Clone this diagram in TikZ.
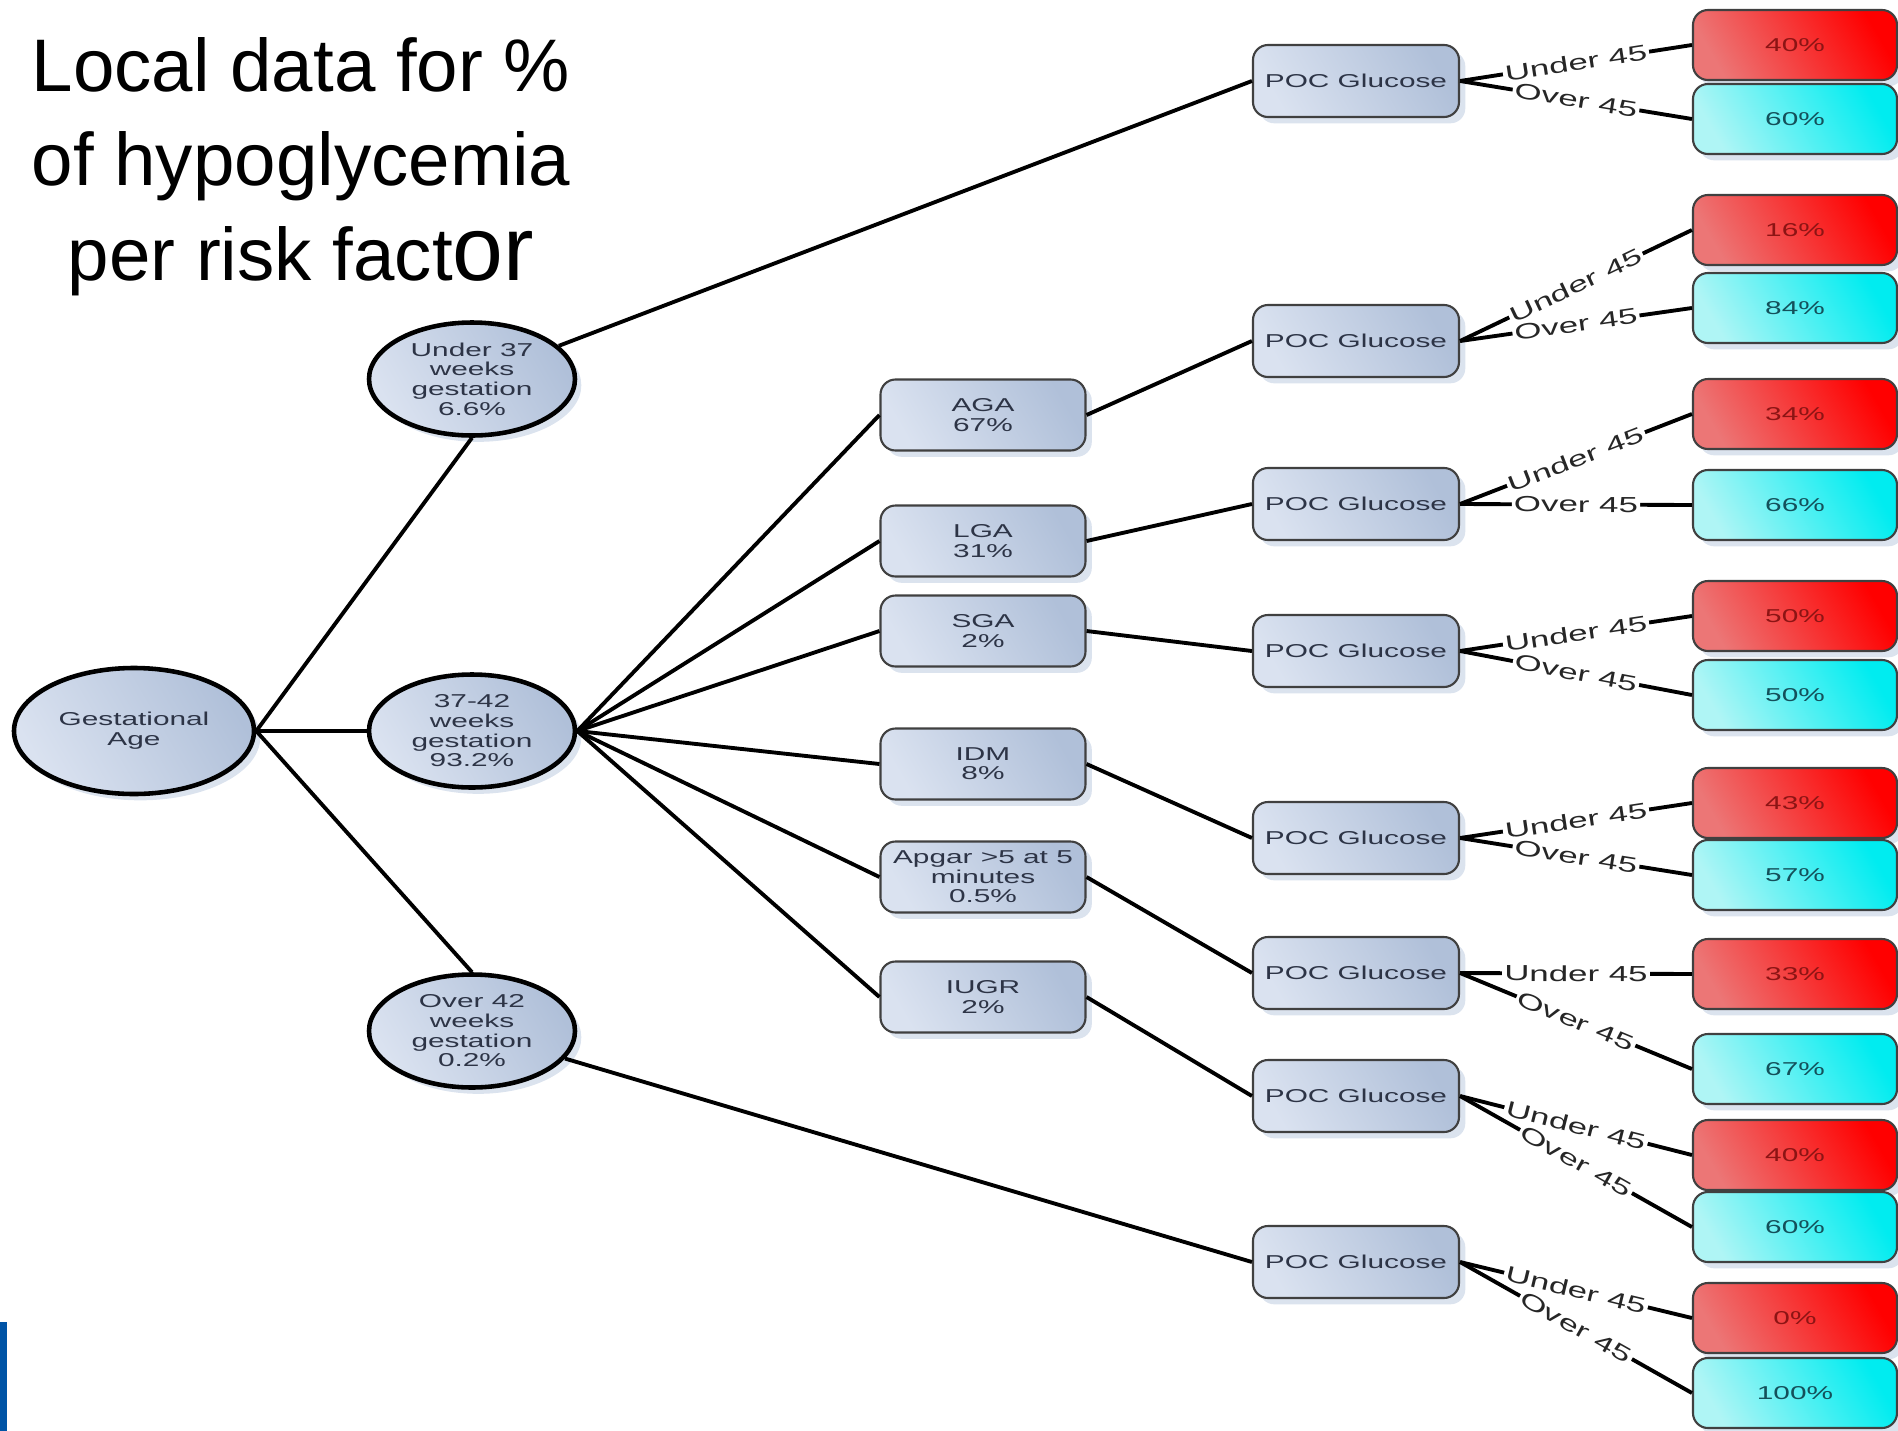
\documentclass[tikz,border=0pt]{standalone}
\usepackage{fontspec}
\setmainfont{Liberation Sans}
\newfontfamily\chartfont{Liberation Sans}[FakeStretch=1.6]
\usetikzlibrary{shapes.geometric,shadows}

\definecolor{nodeblueL}{RGB}{218,226,240}
\definecolor{nodeblueD}{RGB}{176,192,217}
\definecolor{nodetext}{RGB}{45,52,70}
\definecolor{lowredL}{RGB}{236,118,118}
\definecolor{lowred}{RGB}{255,0,0}
\definecolor{lowtext}{RGB}{140,20,20}
\definecolor{highcyanL}{RGB}{175,245,245}
\definecolor{highcyan}{RGB}{0,236,240}
\definecolor{hightext}{RGB}{20,80,90}
\definecolor{slideblue}{RGB}{0,84,166}

\begin{document}
\begin{tikzpicture}[x=1cm, y=-1cm]
  \useasboundingbox (0,0) rectangle (18.98,14.31);
  \fill[slideblue] (0,13.22) rectangle (0.07,14.31);
  \node[anchor=north, align=center, inner sep=0pt, font=\fontsize{21.2}{26.8}\selectfont] (title) at (3.01,0.37) {Local data for \%\\of hypoglycemia\\per risk fact{\fontsize{26}{26}\selectfont or}};

  \begin{scope}[
     softshadow/.style={drop shadow={shadow xshift=1.8pt, shadow yshift=-1.8pt, fill=nodeblueD, opacity=0.45}},
     bluefill/.style={left color=nodeblueL, right color=nodeblueD, shading angle=120},
     agenode/.style={ellipse, draw, line width=1.3pt, bluefill, softshadow, minimum width=2.06cm, minimum height=1.13cm, inner sep=0pt, align=center, text=nodetext, font=\chartfont\fontsize{5.3}{5.6}\selectfont},
     roundbox/.style={rectangle, rounded corners=0.15cm, draw=black!75, line width=0.6pt, softshadow, inner sep=1pt, align=center, minimum height=0.71cm, font=\chartfont\fontsize{5.3}{5.5}\selectfont},
     factorbox/.style={roundbox, bluefill, text=nodetext, minimum width=2.05cm},
     pocbox/.style={roundbox, bluefill, text=nodetext, minimum width=2.06cm, minimum height=0.72cm},
     lowbox/.style={roundbox, left color=lowredL, right color=lowred, shading angle=120, text=lowtext, minimum width=2.04cm, minimum height=0.70cm},
     highbox/.style={roundbox, left color=highcyanL, right color=highcyan, shading angle=120, text=hightext, minimum width=2.04cm, minimum height=0.70cm},
     link/.style={line width=1.1pt, black},
     cutoff/.style={sloped, fill=white, inner sep=0.6pt, text=black!85, font=\chartfont\fontsize{6.2}{6.2}\selectfont}]
   \node[agenode, minimum width=2.40cm, minimum height=1.26cm] (ga) at (1.34,7.31) {Gestational\\Age};
   \node[agenode] (under37) at (4.72,3.79) {Under 37\\weeks\\gestation\\6.6\%};
   \node[agenode] (term)    at (4.72,7.31) {37-42\\weeks\\gestation\\93.2\%};
   \node[agenode] (over42)  at (4.72,10.31) {Over 42\\weeks\\gestation\\0.2\%};

   \node[factorbox] (aga)   at (9.83,4.15) {AGA\\67\%};
   \node[factorbox] (lga)   at (9.83,5.41) {LGA\\31\%};
   \node[factorbox] (sga)   at (9.83,6.31) {SGA\\2\%};
   \node[factorbox] (idm)   at (9.83,7.64) {IDM\\8\%};
   \node[factorbox] (apgar) at (9.83,8.77) {Apgar >5 at 5\\minutes\\0.5\%};
   \node[factorbox] (iugr)  at (9.83,9.97) {IUGR\\2\%};

   \node[pocbox] (poc1) at (13.56,0.81)  {POC Glucose};
   \node[pocbox] (poc2) at (13.56,3.41)  {POC Glucose};
   \node[pocbox] (poc3) at (13.56,5.04)  {POC Glucose};
   \node[pocbox] (poc4) at (13.56,6.51)  {POC Glucose};
   \node[pocbox] (poc5) at (13.56,8.38)  {POC Glucose};
   \node[pocbox] (poc6) at (13.56,9.73)  {POC Glucose};
   \node[pocbox] (poc7) at (13.56,10.96) {POC Glucose};
   \node[pocbox] (poc8) at (13.56,12.62) {POC Glucose};

   \node[lowbox]  (low1)  at (17.95,0.45)  {40\%};
   \node[highbox] (high1) at (17.95,1.19)  {60\%};
   \node[lowbox]  (low2)  at (17.95,2.30)  {16\%};
   \node[highbox] (high2) at (17.95,3.08)  {84\%};
   \node[lowbox]  (low3)  at (17.95,4.14)  {34\%};
   \node[highbox] (high3) at (17.95,5.05)  {66\%};
   \node[lowbox]  (low4)  at (17.95,6.16)  {50\%};
   \node[highbox] (high4) at (17.95,6.95)  {50\%};
   \node[lowbox]  (low5)  at (17.95,8.03)  {43\%};
   \node[highbox] (high5) at (17.95,8.75)  {57\%};
   \node[lowbox]  (low6)  at (17.95,9.74)  {33\%};
   \node[highbox] (high6) at (17.95,10.69) {67\%};
   \node[lowbox]  (low7)  at (17.95,11.55) {40\%};
   \node[highbox] (high7) at (17.95,12.27) {60\%};
   \node[lowbox]  (low8)  at (17.95,13.18) {0\%};
   \node[highbox] (high8) at (17.95,13.93) {100\%};

   \draw[link] (ga.east) -- (under37.south);
   \draw[link] (ga.east) -- (term.west);
   \draw[link] (ga.east) -- (over42.north);
   \draw[link] (under37) -- (poc1.west);
   \draw[link] (over42) -- (poc8.west);

   \draw[link] (term.east) -- (aga.west);
   \draw[link] (term.east) -- (lga.west);
   \draw[link] (term.east) -- (sga.west);
   \draw[link] (term.east) -- (idm.west);
   \draw[link] (term.east) -- (apgar.west);
   \draw[link] (term.east) -- (iugr.west);

   \draw[link] (aga.east) -- (poc2.west);
   \draw[link] (lga.east) -- (poc3.west);
   \draw[link] (sga.east) -- (poc4.west);
   \draw[link] (idm.east) -- (poc5.west);
   \draw[link] (apgar.east) -- (poc6.west);
   \draw[link] (iugr.east) -- (poc7.west);

   \draw[link] (poc1.east) -- node[cutoff] {Under 45} (low1.west);
   \draw[link] (poc1.east) -- node[cutoff] {Over 45} (high1.west);
   \draw[link] (poc2.east) -- node[cutoff] {Under 45} (low2.west);
   \draw[link] (poc2.east) -- node[cutoff] {Over 45} (high2.west);
   \draw[link] (poc3.east) -- node[cutoff] {Under 45} (low3.west);
   \draw[link] (poc3.east) -- node[cutoff] {Over 45} (high3.west);
   \draw[link] (poc4.east) -- node[cutoff] {Under 45} (low4.west);
   \draw[link] (poc4.east) -- node[cutoff] {Over 45} (high4.west);
   \draw[link] (poc5.east) -- node[cutoff] {Under 45} (low5.west);
   \draw[link] (poc5.east) -- node[cutoff] {Over 45} (high5.west);
   \draw[link] (poc6.east) -- node[cutoff] {Under 45} (low6.west);
   \draw[link] (poc6.east) -- node[cutoff] {Over 45} (high6.west);
   \draw[link] (poc7.east) -- node[cutoff] {Under 45} (low7.west);
   \draw[link] (poc7.east) -- node[cutoff] {Over 45} (high7.west);
   \draw[link] (poc8.east) -- node[cutoff] {Under 45} (low8.west);
   \draw[link] (poc8.east) -- node[cutoff] {Over 45} (high8.west);
  \end{scope}
\end{tikzpicture}
\end{document}
